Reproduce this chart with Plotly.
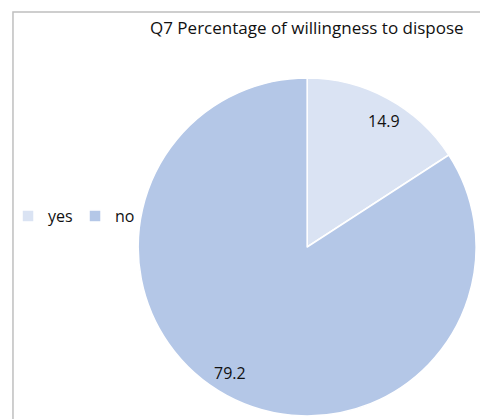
import math
import plotly.graph_objects as go

categories = ["yes", "no"]
values = [14.9, 79.2]
colors = ["#DAE3F3", "#B4C7E7"]
title_text = "Q7 Percentage of willingness to dispose"

# page has an 8px body margin; work in reference-pixel coordinates and shift
OFF = 8
W, H = 488 - OFF, 419 - OFF


def px(x):
    return (x - OFF) / W


def py(y):
    return 1 - (y - OFF) / H


FONT = "Open Sans"
TXT = "#111111"

# pie geometry (reference pixels)
CX, CY, R = 306, 247, 170

fig = go.Figure()
fig.add_trace(go.Pie(
    labels=categories,
    values=values,
    marker=dict(colors=colors, line=dict(color="white", width=1.5)),
    sort=False,
    direction="clockwise",
    rotation=0,
    textinfo="none",
    domain=dict(x=[px(CX - R), px(CX + R)], y=[max(0, py(CY + R)), py(CY - R)]),
    hoverinfo="label+value",
))

# data labels placed along each slice's mid-angle (computed from values)
total = sum(values)
annotations = []
cum = 0.0
for v in values:
    mid = (cum + v / 2) / total * 2 * math.pi + math.radians(3)
    cum += v
    k = 0.87
    lx = CX + k * R * math.sin(mid)
    ly = CY - k * R * math.cos(mid)
    annotations.append(dict(text=f"{v}", x=px(lx), y=py(ly), xref="paper", yref="paper",
                            xanchor="center", yanchor="middle", showarrow=False,
                            font=dict(family=FONT, size=16, color=TXT)))

annotations.append(dict(text=title_text, x=px(306), y=py(27), xref="paper", yref="paper",
                        xanchor="center", yanchor="middle", showarrow=False,
                        font=dict(family=FONT, size=17, color=TXT)))

fig.update_layout(
    width=W, height=H,
    margin=dict(l=0, r=0, t=0, b=0),
    paper_bgcolor="white",
    font=dict(family=FONT, size=16, color=TXT),
    showlegend=True,
    legend=dict(orientation="h", x=px(5), y=py(216), xanchor="left", yanchor="middle",
                font=dict(family=FONT, size=16, color=TXT),
                bgcolor="rgba(0,0,0,0)",
                itemwidth=30, entrywidth=22, tracegroupgap=0),
    annotations=annotations,
    shapes=[dict(type="rect", xref="paper", yref="paper",
                 x0=px(10), x1=1.05, y0=-0.05, y1=py(12),
                 line=dict(color="#BFBFBF", width=1.5), fillcolor="rgba(0,0,0,0)", layer="below")],
)

fig.write_html("out.html")
